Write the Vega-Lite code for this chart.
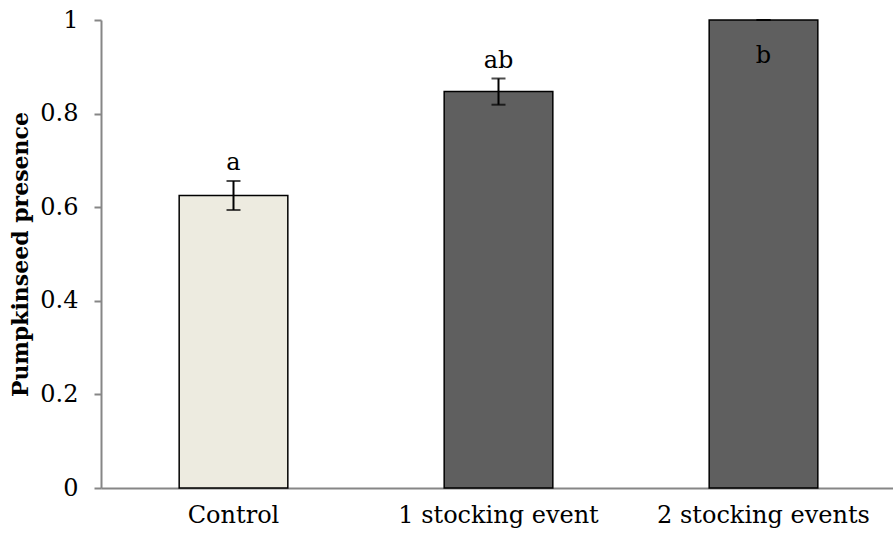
{
  "$schema": "https://vega.github.io/schema/vega-lite/v6.json",
  "width": 795,
  "height": 468,
  "autosize": "none",
  "padding": {"left": 101, "top": 20, "right": 0, "bottom": 53},
  "background": "white",
  "config": {
    "view": {"stroke": null},
    "font": "DejaVu Serif"
  },
  "data": {
    "values": [
      {"group": "Control", "presence": 0.625, "lower": 0.594, "upper": 0.656, "letter": "a", "labelpos": 0.68},
      {"group": "1 stocking event", "presence": 0.847, "lower": 0.819, "upper": 0.875, "letter": "ab", "labelpos": 0.897},
      {"group": "2 stocking events", "presence": 1.0, "lower": 1.0, "upper": 1.0, "letter": "b", "labelpos": 0.908}
    ]
  },
  "encoding": {
    "x": {
      "field": "group",
      "type": "nominal",
      "sort": ["Control", "1 stocking event", "2 stocking events"],
      "scale": {"paddingInner": 0.59, "paddingOuter": 0.295},
      "axis": {
        "title": null,
        "labelAngle": 0,
        "labelFont": "DejaVu Serif",
        "labelFontSize": 24,
        "labelColor": "black",
        "labelPadding": 15,
        "labelLimit": 0,
        "ticks": false,
        "domainColor": "#868686",
        "domainWidth": 2
      }
    }
  },
  "layer": [
    {
      "mark": {"type": "bar", "stroke": "black", "strokeWidth": 1.5},
      "encoding": {
        "y": {
          "field": "presence",
          "type": "quantitative",
          "scale": {"domain": [0, 1]},
          "axis": {
            "title": "Pumpkinseed presence",
            "titleFont": "DejaVu Serif",
            "titleFontWeight": "bold",
            "titleFontSize": 22,
            "titleColor": "black",
            "titlePadding": 7,
            "values": [0, 0.2, 0.4, 0.6, 0.8, 1],
            "format": "~g",
            "labelFont": "DejaVu Serif",
            "labelFontSize": 24,
            "labelColor": "black",
            "labelPadding": 16,
            "tickColor": "#868686",
            "tickSize": 7,
            "tickWidth": 2,
            "domainColor": "#868686",
            "domainWidth": 2,
            "grid": false
          }
        },
        "color": {
          "field": "group",
          "type": "nominal",
          "scale": {
            "domain": ["Control", "1 stocking event", "2 stocking events"],
            "range": ["#EDEBE0", "#5F5F5F", "#5F5F5F"]
          },
          "legend": null
        }
      }
    },
    {
      "mark": {"type": "rule", "color": "black", "strokeWidth": 2},
      "encoding": {
        "y": {"field": "lower", "type": "quantitative"},
        "y2": {"field": "upper"}
      }
    },
    {
      "mark": {"type": "tick", "color": "black", "size": 14, "thickness": 2},
      "encoding": {
        "y": {"field": "lower", "type": "quantitative"}
      }
    },
    {
      "mark": {"type": "tick", "color": "black", "size": 14, "thickness": 2},
      "encoding": {
        "y": {"field": "upper", "type": "quantitative"}
      }
    },
    {
      "mark": {"type": "text", "font": "DejaVu Serif", "fontSize": 24, "color": "black", "baseline": "alphabetic", "align": "center"},
      "encoding": {
        "y": {"field": "labelpos", "type": "quantitative"},
        "text": {"field": "letter"}
      }
    }
  ]
}
